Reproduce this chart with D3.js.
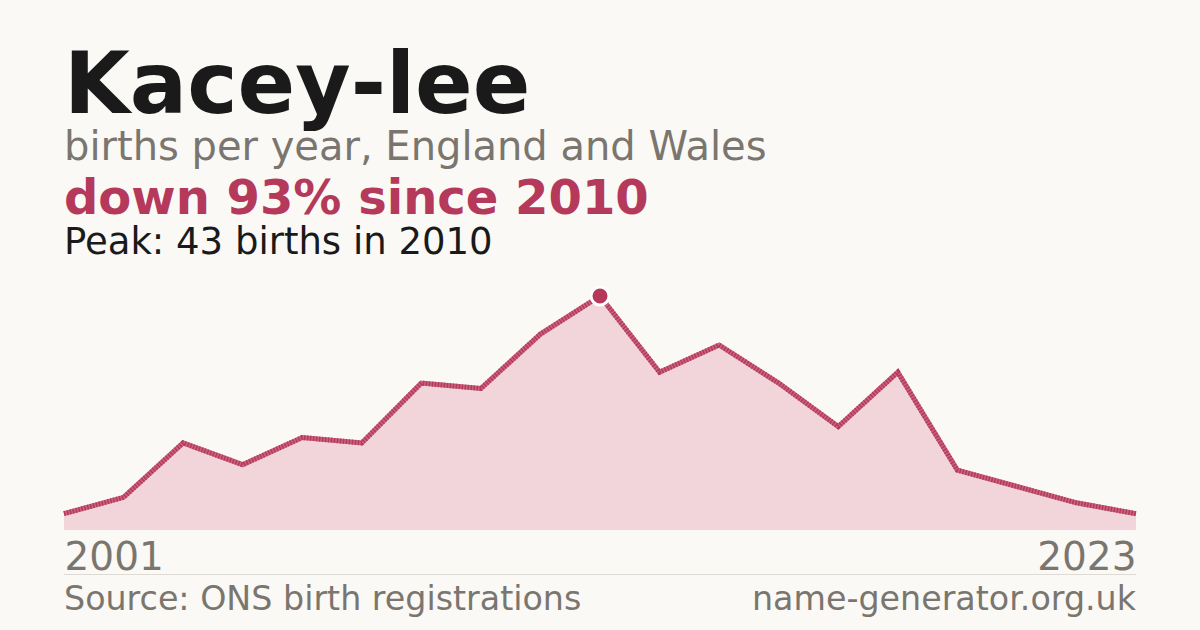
<!DOCTYPE html>
<html>
<head>
<meta charset="utf-8">
<script src="https://cdn.jsdelivr.net/npm/d3@7"></script>
<style>
  html, body { margin: 0; padding: 0; background: #faf9f5; }
  svg { display: block; font-family: "DejaVu Sans", sans-serif; }
</style>
</head>
<body>
<svg id="chart" width="1200" height="630"></svg>
<script>
// data
const years = [2001, 2002, 2003, 2004, 2005, 2006, 2007, 2008, 2009, 2010,
  2011, 2012, 2013, 2014, 2015, 2016, 2018, 2020, 2023];
const births = [3, 6, 16, 12, 17, 16, 27, 26, 36, 43,
  29, 34, 27, 19, 29, 11, 8, 5, 3];
const tickLabels = ["2001", "2023"];

const data = years.map((y, i) => ({ year: y, value: births[i] }));
const peak = data.reduce((a, b) => (b.value > a.value ? b : a));

const W = 1200, H = 630;
const plotLeft = 64, plotRight = 1136, plotTop = 296, plotBottom = 530;
const red = "#b5395a";
const grey = "#7a766f";

const svg = d3.select("#chart");
svg.append("rect").attr("width", W).attr("height", H).attr("fill", "#faf9f5");

const x = d3.scalePoint().domain(years).range([plotLeft, plotRight]);
const y = d3.scaleLinear().domain([0, peak.value]).range([plotBottom, plotTop]);

// headings
svg.append("text").attr("x", plotLeft).attr("y", 113)
  .attr("font-size", 85).attr("font-weight", "bold").attr("fill", "#1a1a1a")
  .text("Kacey-lee");
svg.append("text").attr("x", plotLeft).attr("y", 160)
  .attr("font-size", 40).attr("fill", grey)
  .text("births per year, England and Wales");
svg.append("text").attr("x", plotLeft).attr("y", 214)
  .attr("font-size", 48).attr("font-weight", "bold").attr("fill", red)
  .text("down 93% since 2010");
svg.append("text").attr("x", plotLeft).attr("y", 254)
  .attr("font-size", 37).attr("fill", "#1a1a1a")
  .text(`Peak: ${peak.value} births in ${peak.year}`);

// area + line
const area = d3.area()
  .x((d) => x(d.year))
  .y0(plotBottom)
  .y1((d) => y(d.value));
const line = d3.line()
  .x((d) => x(d.year))
  .y((d) => y(d.value));

svg.append("path").datum(data)
  .attr("d", area)
  .attr("fill", "#f1d5db");

svg.append("path").datum(data)
  .attr("d", line)
  .attr("fill", "none")
  .attr("stroke", "#c9637e")
  .attr("stroke-width", 5);
svg.append("path").datum(data)
  .attr("d", line)
  .attr("fill", "none")
  .attr("stroke", red)
  .attr("stroke-width", 5)
  .attr("stroke-dasharray", "1.5,1.5");

svg.append("circle")
  .attr("cx", x(peak.year)).attr("cy", y(peak.value))
  .attr("r", 9)
  .attr("fill", red)
  .attr("stroke", "#fff")
  .attr("stroke-width", 3);

// x axis: only first and last labels
const axis = d3.axisBottom(x)
  .tickValues([years[0], years[years.length - 1]])
  .tickSize(0)
  .tickFormat((d, i) => tickLabels[i]);
const axisGroup = svg.append("g")
  .attr("transform", `translate(0,${plotBottom})`)
  .call(axis);
axisGroup.select(".domain").remove();
axisGroup.selectAll("text")
  .attr("font-size", 39)
  .attr("font-family", "DejaVu Sans, sans-serif")
  .attr("fill", grey)
  .attr("dy", null)
  .attr("y", 40)
  .attr("text-anchor", (d, i) => (i === 0 ? "start" : "end"));

// footer
svg.append("line")
  .attr("x1", plotLeft).attr("x2", plotRight)
  .attr("y1", 574.5).attr("y2", 574.5)
  .attr("stroke", "#dedbd4").attr("stroke-width", 1);
svg.append("text").attr("x", plotLeft).attr("y", 610)
  .attr("font-size", 33.3).attr("fill", grey)
  .text("Source: ONS birth registrations");
svg.append("text").attr("x", plotRight).attr("y", 610)
  .attr("font-size", 33.3).attr("fill", grey).attr("text-anchor", "end")
  .text("name-generator.org.uk");
</script>
</body>
</html>
